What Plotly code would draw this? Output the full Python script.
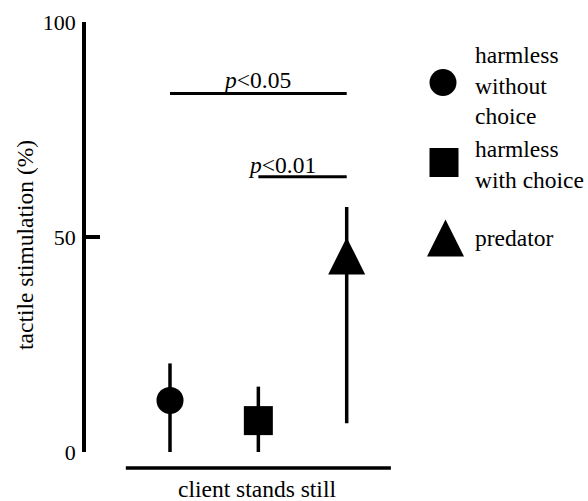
import plotly.graph_objects as go

# ---------------- data ----------------
groups = ["harmless without choice", "harmless with choice", "predator"]
legend_labels = ["harmless<br>without<br>choice", "harmless<br>with choice", "predator"]
x_pos = [1, 2, 3]
values = [12.0, 7.3, 45.6]          # tactile stimulation (%)
upper = [20.6, 15.2, 57.0]          # top of error bar
lower = [0.0, 0.0, 6.7]             # bottom of error bar
y_ticks = [0, 50, 100]
x_label = "client stands still"
y_label = "tactile stimulation (%)"
sig_labels = ["<i>p</i>&lt;0.05", "<i>p</i>&lt;0.01"]
sig_from = [1, 2]
sig_to = [3, 3]
sig_level = [83.4, 64.0]

# ---------------- style ----------------
FONT = "Liberation Serif"
FS = 23.5
TICK_FS = 22
symbols = ["circle", "square", "arrow-down"]
sizes = [27, 29, 37]
angles = [0, 0, 180]
standoffs = [0, 0, 18.5]

L, T, W, H = 86, 22, 502, 430
PX_PER_UNIT = 88.35
x0 = 1 - (170 - L) / PX_PER_UNIT
x1 = x0 + W / PX_PER_UNIT


def px(x):
    return (x - L) / W


def py(y):
    return (T + H - y) / H


fig = go.Figure()

for i, g in enumerate(groups):
    fig.add_trace(go.Scatter(
        x=[x_pos[i]], y=[values[i]], mode="markers", name=g,
        marker=dict(symbol=symbols[i], size=sizes[i], color="black",
                    angle=angles[i], standoff=standoffs[i],
                    line=dict(width=0)),
        error_y=dict(type="data", symmetric=False,
                     array=[upper[i] - values[i]],
                     arrayminus=[values[i] - lower[i]],
                     thickness=3.5, width=0, color="black"),
        cliponaxis=False, showlegend=False,
    ))

# legend symbols on an overlay axis in plot-area fractions
leg_x = [443, 444, 445.5]
leg_y = [82.5, 162.5, 238]
for i, g in enumerate(groups):
    fig.add_trace(go.Scatter(
        x=[px(leg_x[i])], y=[py(leg_y[i])], mode="markers", name=g,
        xaxis="x2", yaxis="y2",
        marker=dict(symbol=symbols[i], size=sizes[i], color="black",
                    angle=angles[i], standoff=standoffs[i],
                    line=dict(width=0)),
        cliponaxis=False, showlegend=False, hoverinfo="skip",
    ))

shapes = []
# x axis baseline
shapes.append(dict(type="line", xref="x", yref="paper", x0=0.5, x1=3.5,
                   y0=py(468), y1=py(468), line=dict(color="black", width=3.5)))
for a, b, lv in zip(sig_from, sig_to, sig_level):
    shapes.append(dict(type="line", xref="x", yref="y", x0=a, x1=b, y0=lv, y1=lv,
                       line=dict(color="black", width=3)))

annotations = []
sig_x = [1.99, 2.27]
sig_shift = [13, 12]
for lab, sx, lv, sh in zip(sig_labels, sig_x, sig_level, sig_shift):
    annotations.append(dict(text=lab, x=sx, y=lv, xref="x", yref="y",
                            xanchor="center", yanchor="middle", yshift=sh,
                            showarrow=False, font=dict(family=FONT, size=FS, color="black")))

leg_text_y = [85.5, 164, 238]
for lab, ty in zip(legend_labels, leg_text_y):
    annotations.append(dict(text=lab, x=px(472.5), y=py(ty), xref="paper", yref="paper",
                            xanchor="left", yanchor="middle", align="left",
                            showarrow=False, font=dict(family=FONT, size=FS, color="black")))

annotations.append(dict(text=x_label, x=px(257), y=py(489), xref="paper", yref="paper",
                        xanchor="center", yanchor="middle", showarrow=False,
                        font=dict(family=FONT, size=FS, color="black")))
annotations.append(dict(text=y_label, x=px(25), y=py(245), xref="paper", yref="paper",
                        xanchor="center", yanchor="middle", textangle=-90, showarrow=False,
                        font=dict(family=FONT, size=FS, color="black")))

fig.update_layout(
    width=588, height=501,
    margin=dict(l=L, r=588 - L - W, t=T, b=501 - T - H, pad=0),
    paper_bgcolor="white", plot_bgcolor="white",
    showlegend=False,
    font=dict(family=FONT, size=FS, color="black"),
    xaxis=dict(range=[x0, x1], visible=False, fixedrange=True),
    yaxis=dict(range=[0, 100], showline=True, linewidth=3.5, linecolor="black",
               ticks="inside", ticklen=14, tickwidth=3.5, tickcolor="black",
               tickvals=y_ticks, ticktext=[str(t) for t in y_ticks],
               showgrid=False, zeroline=False, ticklabelstandoff=2,
               tickfont=dict(family=FONT, size=TICK_FS, color="black")),
    xaxis2=dict(range=[0, 1], overlaying="x", anchor="y2", visible=False),
    yaxis2=dict(range=[0, 1], overlaying="y", anchor="x2", visible=False),
    shapes=shapes,
    annotations=annotations,
)

fig.write_html(
    "out.html",
    config={"displayModeBar": False},
    post_script="document.body.style.margin='0px';document.body.style.overflow='hidden';",
)
